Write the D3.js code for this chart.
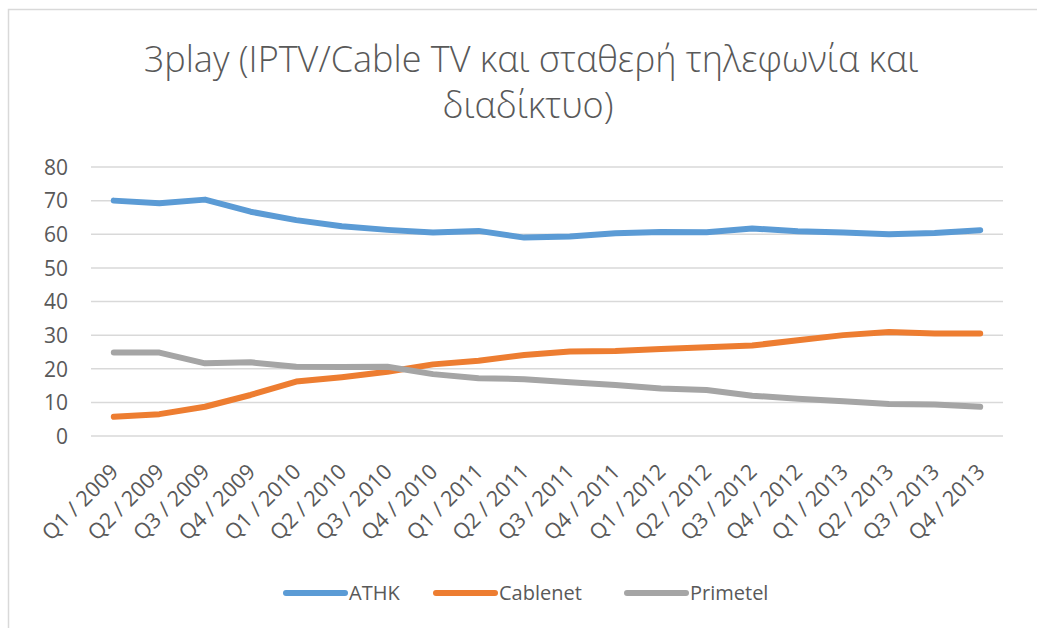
<!DOCTYPE html>
<html lang="en">
<head>
<meta charset="utf-8">
<title>3play</title>
<script src="https://d3js.org/d3.v7.min.js"></script>
<style>
  body { margin: 0; background: #fff; }
  svg { display: block; }
  svg text { font-family: "Open Sans", "Noto Sans", sans-serif; fill: #595959; }
  .title { font-size: 36px; font-weight: 300; }
  .axis text { font-size: 21px; }
  .xaxis text { font-size: 21.5px; }
  .legend text { font-size: 20px; }
</style>
</head>
<body>
<svg id="chart" width="1037" height="628"></svg>
<script>
// quarters on the x axis
var quarters = ["Q1 / 2009","Q2 / 2009","Q3 / 2009","Q4 / 2009",
                "Q1 / 2010","Q2 / 2010","Q3 / 2010","Q4 / 2010",
                "Q1 / 2011","Q2 / 2011","Q3 / 2011","Q4 / 2011",
                "Q1 / 2012","Q2 / 2012","Q3 / 2012","Q4 / 2012",
                "Q1 / 2013","Q2 / 2013","Q3 / 2013","Q4 / 2013"];

// values
var athk     = [70, 69.2, 70.3, 66.7, 64.2, 62.4, 61.3, 60.5, 61, 59,
                59.3, 60.3, 60.7, 60.6, 61.7, 60.9, 60.5, 60, 60.4, 61.2];
var cablenet = [5.7, 6.5, 8.7, 12.2, 16.2, 17.5, 19.1, 21.3, 22.4, 24.1,
                25.1, 25.3, 25.9, 26.4, 26.9, 28.5, 30, 30.9, 30.5, 30.5];
var primetel = [24.8, 24.8, 21.6, 21.9, 20.6, 20.5, 20.6, 18.4, 17.2, 16.9,
                16, 15.2, 14.1, 13.7, 12, 11.1, 10.3, 9.5, 9.4, 8.7];

var seriesNames  = ["ATHK", "Cablenet", "Primetel"];
var seriesColors = ["#5b9bd5", "#ed7d31", "#a5a5a5"];
var yTicks = [0, 10, 20, 30, 40, 50, 60, 70, 80];

var series = [athk, cablenet, primetel];

var svg = d3.select("#chart");

// chart frame (only top/left are visible in the picture)
svg.append("rect")
  .attr("x", 8.5).attr("y", 9.5)
  .attr("width", 1100).attr("height", 700)
  .attr("fill", "none")
  .attr("stroke", "#d9d9d9")
  .attr("stroke-width", 1.5);

// title, two lines
svg.append("text")
  .attr("class", "title")
  .attr("text-anchor", "middle")
  .attr("x", 531).attr("y", 72)
  .text("3play (IPTV/Cable TV και σταθερή τηλεφωνία και");
svg.append("text")
  .attr("class", "title")
  .attr("text-anchor", "middle")
  .attr("x", 528).attr("y", 118)
  .text("διαδίκτυο)");

var x = d3.scaleBand().domain(quarters).range([91, 1003]);
var y = d3.scaleLinear().domain([0, 80]).range([436, 167]);

// gridlines
svg.append("g")
  .selectAll("line")
  .data(yTicks)
  .join("line")
    .attr("x1", 91).attr("x2", 1003)
    .attr("y1", function(d) { return y(d); })
    .attr("y2", function(d) { return y(d); })
    .attr("stroke", "#d9d9d9")
    .attr("stroke-width", 1.5);

// y axis labels
var yAxis = svg.append("g")
  .attr("class", "axis")
  .attr("transform", "translate(76,0)")
  .call(d3.axisLeft(y).tickValues(yTicks).tickSize(0).tickPadding(8));
yAxis.select(".domain").remove();
yAxis.selectAll("text").attr("dy", "0.35em");

// x axis labels, rotated
var xAxis = svg.append("g")
  .attr("class", "xaxis")
  .attr("transform", "translate(0,436)")
  .call(d3.axisBottom(x).tickSize(0).tickPadding(0));
xAxis.select(".domain").remove();
xAxis.selectAll("text")
  .attr("text-anchor", "end")
  .attr("dy", null)
  .attr("y", 0)
  .attr("transform", "translate(6,37) rotate(-45)");

// lines
var line = d3.line()
  .x(function(d, i) { return x(quarters[i]) + x.bandwidth() / 2; })
  .y(function(d) { return y(d); });

svg.append("g")
  .selectAll("path")
  .data(series)
  .join("path")
    .attr("d", line)
    .attr("fill", "none")
    .attr("stroke", function(d, i) { return seriesColors[i]; })
    .attr("stroke-width", 6)
    .attr("stroke-linecap", "round")
    .attr("stroke-linejoin", "round");

// legend
var legendX = [286, 436, 627];
var legend = svg.append("g").attr("class", "legend")
  .selectAll("g")
  .data(seriesNames)
  .join("g")
    .attr("transform", function(d, i) { return "translate(" + legendX[i] + ",593)"; });
legend.append("line")
  .attr("x1", 0).attr("x2", 59)
  .attr("stroke", function(d, i) { return seriesColors[i]; })
  .attr("stroke-width", 6)
  .attr("stroke-linecap", "round");
legend.append("text")
  .attr("x", 63).attr("dy", "0.35em")
  .text(function(d) { return d; });
</script>
</body>
</html>
